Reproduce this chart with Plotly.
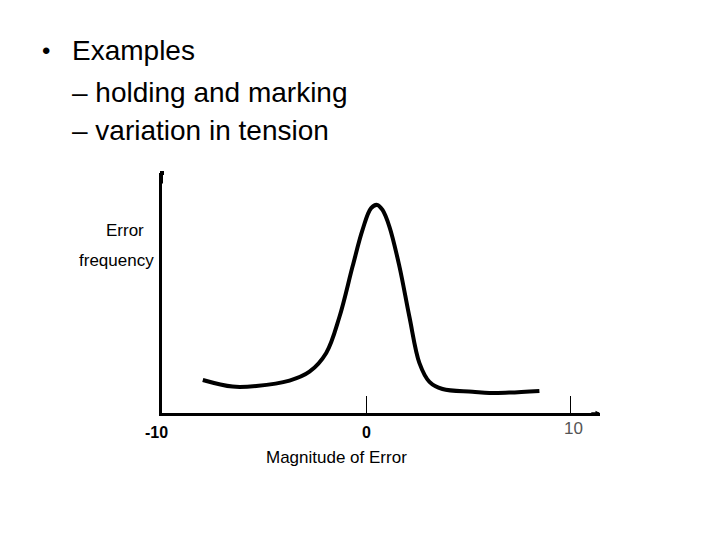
import plotly.graph_objects as go

# Curve data (magnitude of error vs error frequency)
error_magnitude = [-8.0, -6.54, -5.38, -3.75, -2.77, -1.95, -1.30, -0.66, -0.17, 0.25, 0.55,
                   0.81, 1.15, 1.64, 2.13, 2.62, 3.11, 3.75, 5.22, 6.05, 7.03, 8.5]
error_frequency = [1.375, 1.10, 1.125, 1.35, 1.72, 2.5, 4.01, 6.1, 7.63, 8.54, 8.67,
                   8.46, 7.76, 6.1, 4.0, 2.08, 1.30, 1.0, 0.89, 0.83, 0.85, 0.92]

tick_values = [0, 10]
tick_labels = ["-10", "0", "10"]
bullet_lines = ["Examples", "– holding and marking", "– variation in tension"]

W, H = 720, 540
OFF = 8  # page body margin
L, R, T, B = 154, 128, 165, 135
PW, PH = W - L - R, H - T - B


def px(x):
    return (x - OFF - L) / PW


def py(y):
    return (H - B - (y - OFF)) / PH


fig = go.Figure()
fig.add_trace(go.Scatter(
    x=error_magnitude, y=error_frequency, mode="lines",
    line=dict(color="black", width=4, shape="spline", smoothing=1.0),
    hoverinfo="skip", showlegend=False,
))

font = "Liberation Sans, Arial, sans-serif"
ann = []
# Title bullet text
ann.append(dict(text="•", x=px(46), y=py(50), xref="paper", yref="paper",
                xanchor="center", yanchor="middle", showarrow=False,
                font=dict(family=font, size=24, color="black")))
ann.append(dict(text=bullet_lines[0], x=px(70), y=py(50), xref="paper", yref="paper",
                xanchor="left", yanchor="middle", showarrow=False,
                font=dict(family=font, size=28, color="black")))
for i, line in enumerate(bullet_lines[1:]):
    ann.append(dict(text=line, x=px(70), y=py(92 + 39 * i), xref="paper", yref="paper",
                    xanchor="left", yanchor="middle", showarrow=False,
                    font=dict(family=font, size=28, color="black")))

# Axis labels
ann.append(dict(text="Error", x=px(104), y=py(230), xref="paper", yref="paper",
                xanchor="left", yanchor="middle", showarrow=False,
                font=dict(family=font, size=17, color="black")))
ann.append(dict(text="frequency", x=px(77), y=py(260), xref="paper", yref="paper",
                xanchor="left", yanchor="middle", showarrow=False,
                font=dict(family=font, size=17, color="black")))
ann.append(dict(text="Magnitude of Error", x=px(336), y=py(457), xref="paper", yref="paper",
                xanchor="center", yanchor="middle", showarrow=False,
                font=dict(family=font, size=17, color="black")))

# Tick labels
ann.append(dict(text="<b>" + tick_labels[0] + "</b>", x=-10, y=py(432), xref="x", yref="paper",
                xshift=-6, xanchor="center", yanchor="middle", showarrow=False,
                font=dict(family=font, size=16, color="black")))
ann.append(dict(text="<b>" + tick_labels[1] + "</b>", x=0, y=py(432), xref="x", yref="paper",
                xshift=0, xanchor="center", yanchor="middle", showarrow=False,
                font=dict(family=font, size=16, color="black")))
ann.append(dict(text=tick_labels[2], x=10, y=py(428), xref="x", yref="paper",
                xshift=3, xanchor="center", yanchor="middle", showarrow=False,
                font=dict(family=font, size=17, color="#555")))

xmax = -10 + PW / 20.4
# Arrowheads
ann.append(dict(x=xmax, y=0, ax=xmax - 0.5, ay=0, xref="x", yref="y", axref="x", ayref="y",
                showarrow=True, arrowhead=2, arrowsize=0.6, arrowwidth=1.5, arrowcolor="black", text=""))
ann.append(dict(x=-10, y=10, ax=-10, ay=9.5, xref="x", yref="y", axref="x", ayref="y",
                showarrow=True, arrowhead=7, arrowsize=0.5, arrowwidth=2, arrowcolor="black", text=""))

fig.update_layout(
    width=W, height=H,
    margin=dict(l=L, r=R, t=T, b=B, pad=0),
    paper_bgcolor="white", plot_bgcolor="white",
    annotations=ann,
    xaxis=dict(range=[-10, xmax], showgrid=False, zeroline=False, showline=True,
               linecolor="black", linewidth=3, ticks="inside", tickvals=tick_values,
               ticklen=17, tickwidth=1, tickcolor="black", showticklabels=False),
    yaxis=dict(range=[0, 10], showgrid=False, zeroline=False, showline=True,
               linecolor="black", linewidth=3, ticks="", showticklabels=False),
)

fig.write_html("out.html")
